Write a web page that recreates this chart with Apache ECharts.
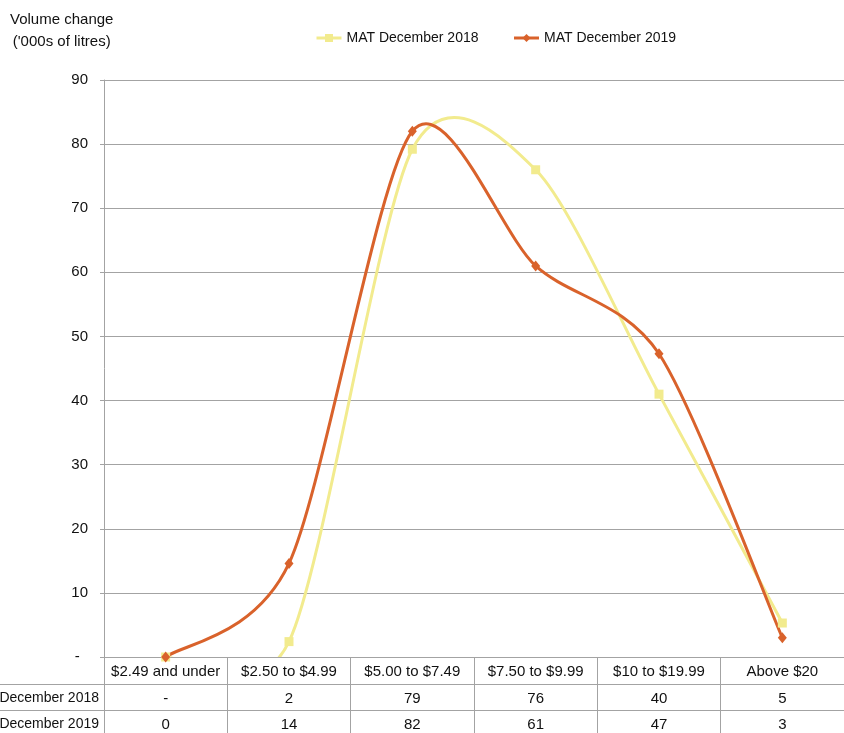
<!DOCTYPE html>
<html>
<head>
<meta charset="utf-8">
<script src="https://cdn.jsdelivr.net/npm/echarts@6/dist/echarts.min.js"></script>
<style>
  html, body { margin: 0; padding: 0; background: #fff; }
  #chart { width: 844px; height: 733px; }
</style>
</head>
<body>
<div id="chart"></div>
<script>
// price bands
const categories = ['$2.49 and under', '$2.50 to $4.99', '$5.00 to $7.49', '$7.50 to $9.99', '$10 to $19.99', 'Above $20'];
const mat2018 = [0, 2.4, 79.2, 76, 41, 5.3];
const mat2019 = [0, 14.6, 82, 61, 47.3, 3];
// data table rows as printed under the chart
const table2018 = ['-', '2', '79', '76', '40', '5'];
const table2019 = ['0', '14', '82', '61', '47', '3'];
const yTicks = [0, 10, 20, 30, 40, 50, 60, 70, 80, 90];

const FONT = "'Liberation Sans', Arial, sans-serif";
const GRAY = '#a3a3a3';
const YELLOW = '#f2eb8e';
const ORANGE = '#d9622b';
const TENSION = 0.14;

// smooth curve like the spreadsheet one: cubic segments, tangents from neighbours
function curveSeries(values, color) {
  return {
    type: 'custom',
    name: 'curve',
    clip: true,
    silent: true,
    z: 2,
    data: values.map((v, i) => [i, v]),
    renderItem: function (params, api) {
      let i = params.dataIndex;
      let n = values.length;
      if (i >= n - 1) return null;
      let pt = j => api.coord([Math.max(0, Math.min(n - 1, j)), values[Math.max(0, Math.min(n - 1, j))]]);
      let p0 = pt(i - 1), p1 = pt(i), p2 = pt(i + 1), p3 = pt(i + 2);
      return {
        type: 'bezierCurve',
        shape: {
          x1: p1[0], y1: p1[1],
          cpx1: p1[0] + (p2[0] - p0[0]) * TENSION,
          cpy1: p1[1] + (p2[1] - p0[1]) * TENSION,
          cpx2: p2[0] - (p3[0] - p1[0]) * TENSION,
          cpy2: p2[1] - (p3[1] - p1[1]) * TENSION,
          x2: p2[0], y2: p2[1]
        },
        style: { stroke: color, lineWidth: 3, fill: null, lineCap: 'round' }
      };
    }
  };
}

let myChart = echarts.init(document.getElementById('chart'));
myChart.setOption({
  animation: false,
  textStyle: { fontFamily: FONT },
  grid: { left: 104, top: 80, width: 744, height: 577 },
  legend: {
    top: 26,
    left: 310,
    itemWidth: 25,
    itemHeight: 10,
    itemGap: 34,
    textStyle: { fontFamily: FONT, fontSize: 14, color: '#111' },
    data: [
      { name: 'MAT December 2018', lineStyle: { opacity: 1, width: 3, color: YELLOW } },
      { name: 'MAT December 2019', lineStyle: { opacity: 1, width: 3, color: ORANGE } }
    ]
  },
  graphic: [
    {
      type: 'text', left: 10, top: 9,
      style: { text: "Volume change\n('000s of litres)", font: '15px ' + FONT, fill: '#111', textAlign: 'center', lineHeight: 22 }
    },
    { type: 'text', right: 745, top: 691, style: { text: 'December 2018', font: '14px ' + FONT, fill: '#111' } },
    { type: 'text', right: 745, top: 717, style: { text: 'December 2019', font: '14px ' + FONT, fill: '#111' } },
    { type: 'line', shape: { x1: 0, y1: 684.5, x2: 844, y2: 684.5 }, style: { stroke: GRAY, lineWidth: 1 } },
    { type: 'line', shape: { x1: 0, y1: 710.5, x2: 844, y2: 710.5 }, style: { stroke: GRAY, lineWidth: 1 } }
  ],
  xAxis: [
    {
      type: 'category',
      data: categories,
      position: 'bottom',
      axisLine: { lineStyle: { color: GRAY } },
      axisTick: { show: true, interval: 0, length: 80, lineStyle: { color: GRAY } },
      axisLabel: { interval: 0, margin: 7, color: '#111', fontSize: 15, fontFamily: FONT }
    },
    {
      type: 'category',
      data: table2018,
      position: 'bottom',
      offset: 27,
      axisLine: { show: false },
      axisTick: { show: false },
      axisLabel: { interval: 0, margin: 7, color: '#111', fontSize: 15, fontFamily: FONT }
    },
    {
      type: 'category',
      data: table2019,
      position: 'bottom',
      offset: 53,
      axisLine: { show: false },
      axisTick: { show: false },
      axisLabel: { interval: 0, margin: 7, color: '#111', fontSize: 15, fontFamily: FONT }
    }
  ],
  yAxis: {
    type: 'value',
    min: yTicks[0],
    max: yTicks[yTicks.length - 1],
    interval: 10,
    axisLine: { show: true, lineStyle: { color: GRAY } },
    axisTick: { show: true, length: 4, lineStyle: { color: GRAY } },
    splitLine: { lineStyle: { color: GRAY } },
    axisLabel: {
      margin: 16,
      color: '#111',
      fontSize: 15,
      fontFamily: FONT,
      formatter: v => v === 0 ? '-  ' : String(v)
    }
  },
  series: [
    curveSeries(mat2018, YELLOW),
    curveSeries(mat2019, ORANGE),
    {
      name: 'MAT December 2018',
      type: 'line',
      data: mat2018,
      z: 3,
      symbol: 'rect',
      symbolSize: 9,
      lineStyle: { opacity: 0 },
      itemStyle: { color: YELLOW }
    },
    {
      name: 'MAT December 2019',
      type: 'line',
      data: mat2019,
      z: 4,
      symbol: 'diamond',
      symbolSize: [9, 11],
      lineStyle: { opacity: 0 },
      itemStyle: { color: ORANGE }
    }
  ]
});
</script>
</body>
</html>
